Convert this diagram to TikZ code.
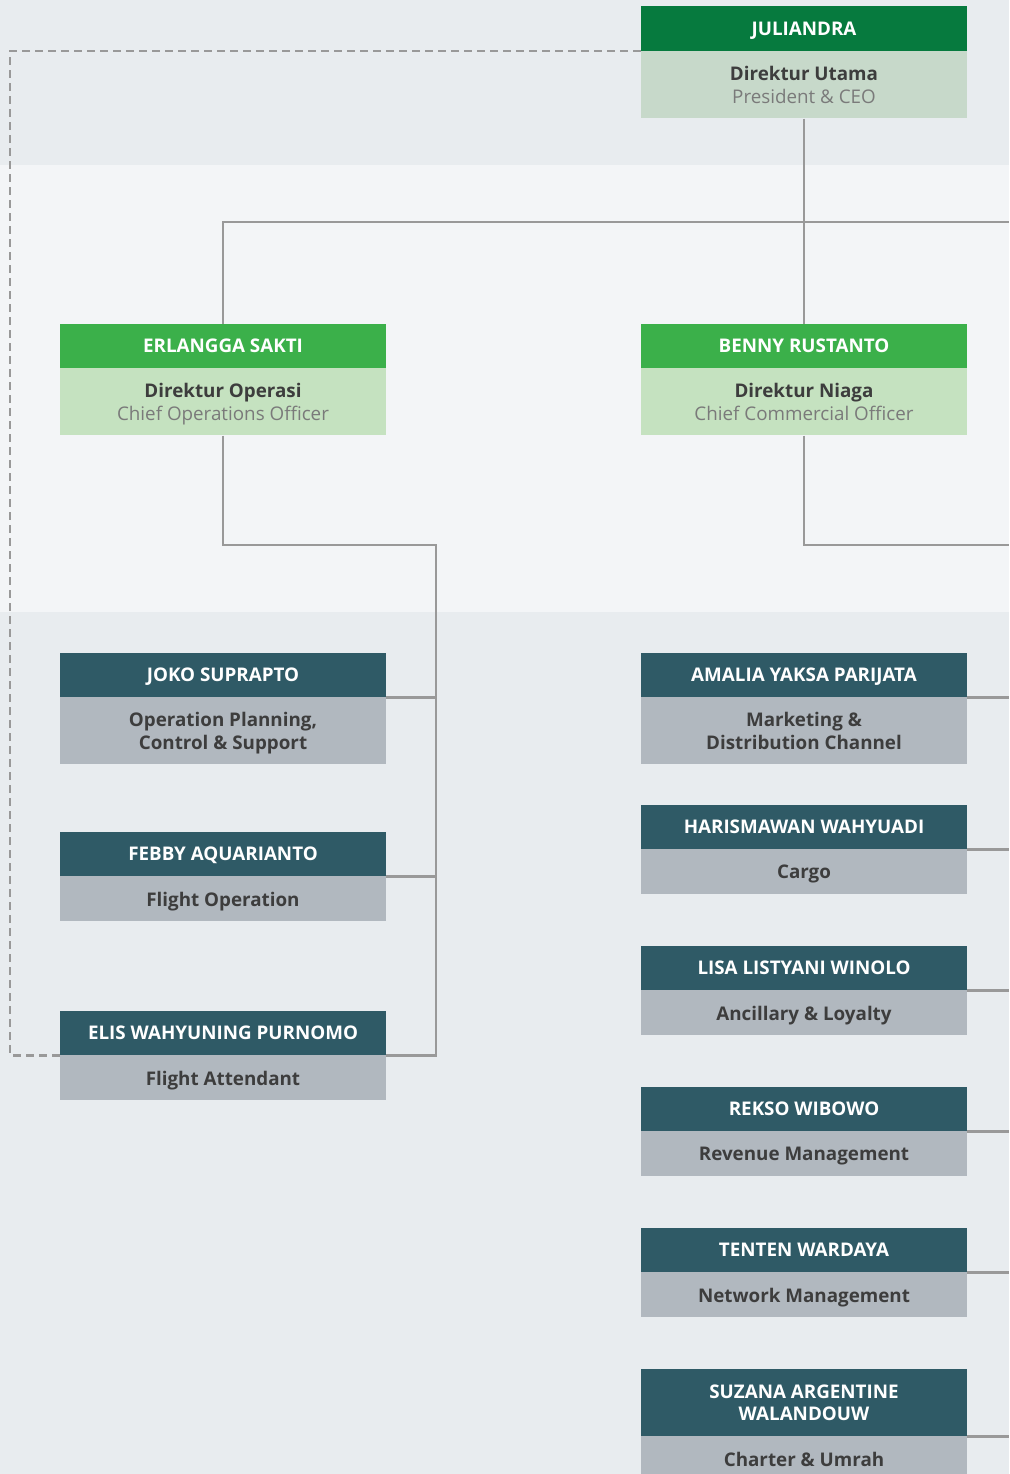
\documentclass[tikz,border=0pt]{standalone}
\usepackage{fontspec}
\setmainfont{Open Sans}
\usetikzlibrary{positioning}
\definecolor{ceogreen}{HTML}{067A3E}
\definecolor{ceobody}{HTML}{C7D9CA}
\definecolor{dirgreen}{HTML}{3BB04A}
\definecolor{dirbody}{HTML}{C5E2C0}
\definecolor{teal}{HTML}{2F5A66}
\definecolor{greybody}{HTML}{B1B8BF}
\definecolor{bgdark}{HTML}{E8ECEF}
\definecolor{bglight}{HTML}{F3F5F7}
\definecolor{linegrey}{HTML}{999999}
\definecolor{txtdark}{HTML}{3D3D3D}
\definecolor{txtsub}{HTML}{7A7A7A}
\tikzset{
  box/.style={rectangle,minimum width=326pt,inner sep=0pt,align=center,text depth=0pt,
    font=\fontsize{18.8}{22.5}\selectfont},
  head/.style={box,minimum height=44pt,text=white,font=\fontsize{18.8}{22.5}\selectfont\bfseries},
  body/.style={box,minimum height=45pt,text=txtdark},
  link/.style={draw=linegrey,line width=2.6pt},
  dashlink/.style={draw=linegrey,line width=2.6pt,dash pattern=on 8pt off 5pt}
}
\begin{document}
\begin{tikzpicture}[x=1pt,y=-1pt]
      \useasboundingbox (0,0) rectangle (1009,1474);
      \fill[bgdark] (0,0) rectangle (1009,165);
      \fill[bglight] (0,165) rectangle (1009,612);
      \fill[bgdark] (0,612) rectangle (1009,1474);
      % bus coordinates
      \coordinate (dl) at (10,0);
      \coordinate (topbus) at (1009,222);
      \coordinate (lbus) at (436,545);
      \coordinate (rbus) at (1009,545);
      % president
      \node[head,fill=ceogreen,minimum height=45pt] (ceo) at (804,28.5) {JULIANDRA};
      \node[body,fill=ceobody,minimum height=67pt,below=0pt of ceo] (ceob)
      {\textbf{Direktur Utama}\\\textcolor{txtsub}{President \& CEO}};
      % directors
      \node[head,fill=dirgreen] (erl) at (223,346) {ERLANGGA SAKTI};
      \node[body,fill=dirbody,minimum height=67pt,below=0pt of erl] (erlb)
      {\textbf{Direktur Operasi}\\\textcolor{txtsub}{Chief Operations Officer}};
      \node[head,fill=dirgreen] (benny) at (804,346) {BENNY RUSTANTO};
      \node[body,fill=dirbody,minimum height=67pt,below=0pt of benny] (bennyb)
      {\textbf{Direktur Niaga}\\\textcolor{txtsub}{Chief Commercial Officer}};
      % operations
      \node[head,fill=teal] (joko) at (223,675) {JOKO SUPRAPTO};
      \node[body,fill=greybody,minimum height=67pt,below=0pt of joko] (jokob)
      {\bfseries Operation Planning,\\\bfseries Control \& Support};
      \node[head,fill=teal] (febby) at (223,854) {FEBBY AQUARIANTO};
      \node[body,fill=greybody,below=0pt of febby] (febbyb) {\bfseries Flight Operation};
      \node[head,fill=teal] (elis) at (223,1033) {ELIS WAHYUNING PURNOMO};
      \node[body,fill=greybody,below=0pt of elis] (elisb) {\bfseries Flight Attendant};
      % commercial
      \node[head,fill=teal] (amalia) at (804,675) {AMALIA YAKSA PARIJATA};
      \node[body,fill=greybody,minimum height=67pt,below=0pt of amalia] (amaliab)
      {\bfseries Marketing \&\\\bfseries Distribution Channel};
      \node[head,fill=teal] (haris) at (804,827) {HARISMAWAN WAHYUADI};
      \node[body,fill=greybody,below=0pt of haris] (harisb) {\bfseries Cargo};
      \node[head,fill=teal] (lisa) at (804,968) {LISA LISTYANI WINOLO};
      \node[body,fill=greybody,below=0pt of lisa] (lisab) {\bfseries Ancillary \& Loyalty};
      \node[head,fill=teal] (rekso) at (804,1109) {REKSO WIBOWO};
      \node[body,fill=greybody,below=0pt of rekso] (reksob) {\bfseries Revenue Management};
      \node[head,fill=teal] (tenten) at (804,1250) {TENTEN WARDAYA};
      \node[body,fill=greybody,below=0pt of tenten] (tentenb) {\bfseries Network Management};
      \node[head,fill=teal,minimum height=67pt] (suzana) at (804,1402.5)
      {SUZANA ARGENTINE\\WALANDOUW};
      \node[body,fill=greybody,below=0pt of suzana] (suzanab) {\bfseries Charter \& Umrah};
      % links
      \draw[dashlink] (ceo.south west) -- (ceo.south west -| dl) |- (elis.south west);
      \draw[link] (ceob.south) -- (benny.north);
      \draw[link] (erl.north) |- (topbus);
      \draw[link] (erlb.south) |- (lbus) -- (elis.south east -| lbus) -- (elis.south east);
      \draw[link] (joko.south east) -- (joko.south east -| lbus);
      \draw[link] (febby.south east) -- (febby.south east -| lbus);
      \draw[link] (bennyb.south) |- (rbus);
      \foreach \n in {amalia,haris,lisa,rekso,tenten,suzana}
        \draw[link] (\n.south east) -- (\n.south east -| rbus);
    \end{tikzpicture}
\end{document}
